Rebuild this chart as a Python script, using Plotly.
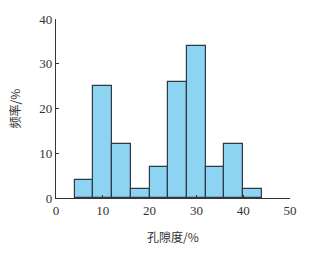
import plotly.graph_objects as go

bin_starts = [4, 8, 12, 16, 20, 24, 28, 32, 36, 40]
bin_width = 4
freq = [4, 25, 12, 2, 7, 26, 34, 7, 12, 2]
x_ticks = [0, 10, 20, 30, 40, 50]
y_ticks = [0, 10, 20, 30, 40]

centers = [s + bin_width / 2 for s in bin_starts]

fig = go.Figure(go.Bar(
    x=centers, y=freq, width=[bin_width] * len(freq),
    marker=dict(color="#8DD4F2", line=dict(color="#2E3A44", width=1.2)),
))

serif = "Liberation Serif, Times New Roman, serif"
cjk = "Noto Sans CJK SC"
fig.update_layout(
    width=309, height=255,
    margin=dict(l=56, r=19, t=12, b=57),
    plot_bgcolor="white", paper_bgcolor="white",
    showlegend=False, bargap=0,
    xaxis=dict(range=[0, 50], tickvals=x_ticks, ticks="inside", ticklen=3,
               tickcolor="#333", showline=True, linecolor="#333", linewidth=1.2,
               showgrid=False, zeroline=False,
               tickfont=dict(family=serif, size=13, color="#333"),
               title=dict(text="孔隙度/%", font=dict(family=cjk, size=12, color="#333"), standoff=16)),
    yaxis=dict(range=[0, 40], tickvals=y_ticks, ticks="inside", ticklen=3,
               tickcolor="#333", showline=True, linecolor="#333", linewidth=1.2,
               showgrid=False, zeroline=False,
               tickfont=dict(family=serif, size=13, color="#333"),
               title=dict(text="频率/%", font=dict(family=cjk, size=12, color="#333"), standoff=16)),
)
fig.write_html("out.html")
